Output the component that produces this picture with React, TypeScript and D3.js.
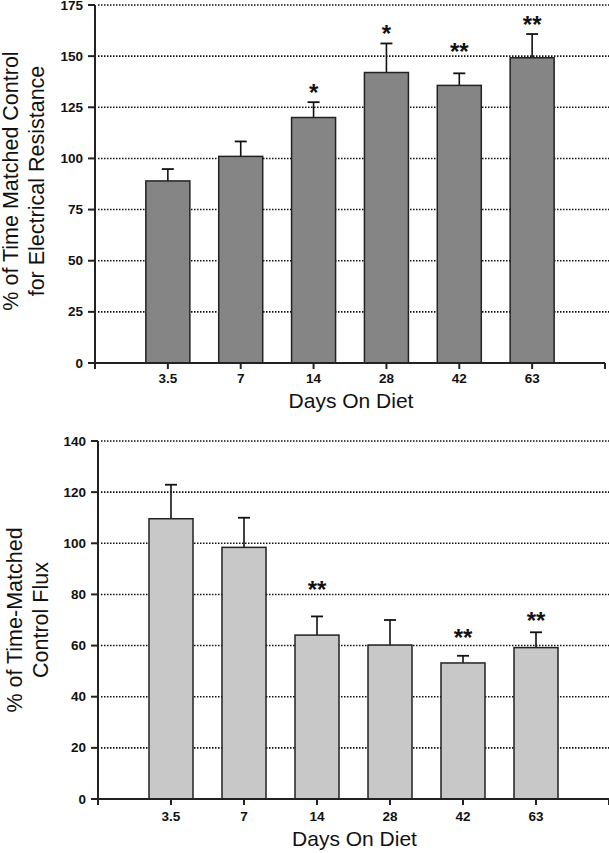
import React from "react";
import * as d3 from "d3";

const categories = ["3.5", "7", "14", "28", "42", "63"];

const resistanceValues = [89, 101, 120, 142, 135.7, 149.2];
const resistanceErrors = [5.8, 7.3, 7.5, 14.2, 5.9, 11.6];
const resistanceStars = ["", "", "*", "*", "**", "**"];
const resistanceStarY = [0, 0, 134.4, 163.2, 154.4, 167.6];
const resistanceTicks = [0, 25, 50, 75, 100, 125, 150, 175];

const fluxValues = [109.6, 98.4, 64.1, 60.2, 53.2, 59.2];
const fluxErrors = [13.3, 11.6, 7.3, 9.8, 2.8, 6.0];
const fluxStars = ["", "", "**", "", "**", "**"];
const fluxStarY = [0, 0, 83.8, 0, 65, 71.4];
const fluxTicks = [0, 20, 40, 60, 80, 100, 120, 140];

const FONT = "'Liberation Sans', Arial, Helvetica, sans-serif";

type PanelProps = {
  values: number[];
  errors: number[];
  stars: string[];
  starY: number[];
  ticks: number[];
  yMax: number;
  x0: number;
  x1: number;
  yTop: number;
  yBottom: number;
  fill: string;
  labelLines: string[];
  labelCenterY: number;
  labelBase: number;
  tickLabelDy: number;
  xTitleY: number;
};

function Panel(p: PanelProps) {
  const y = d3.scaleLinear().domain([0, p.yMax]).range([p.yBottom, p.yTop]);
  const x = d3.scaleLinear().domain([0, categories.length + 1]).range([p.x0, p.x1]);
  const barW = 44;
  const capW = 12;
  return (
    <g>
      {p.ticks.filter((t) => t > 0).map((t) => (
        <line
          key={"g" + t}
          x1={p.x0 + 3}
          x2={p.x1 + 4}
          y1={y(t)}
          y2={y(t)}
          stroke="#111"
          strokeWidth={1.6}
          strokeDasharray="1.5,1.5"
        />
      ))}
      {categories.map((c, i) => {
        const cx = x(i + 1);
        const v = p.values[i];
        const top = y(v);
        const capY = y(v + p.errors[i]);
        return (
          <g key={"b" + c}>
            <line x1={cx} x2={cx} y1={top} y2={capY} stroke="#111" strokeWidth={1.6} />
            <line x1={cx - capW / 2} x2={cx + capW / 2} y1={capY} y2={capY} stroke="#111" strokeWidth={1.8} />
            <rect
              x={cx - barW / 2}
              y={top}
              width={barW}
              height={p.yBottom - top}
              fill={p.fill}
              stroke="#222"
              strokeWidth={1.5}
            />
            {p.stars[i] && (
              <text
                x={cx}
                y={y(p.starY[i]) + 13}
                textAnchor="middle"
                fontFamily={FONT}
                fontWeight="bold"
                fontSize={24}
                fill="#111"
              >
                {p.stars[i]}
              </text>
            )}
          </g>
        );
      })}
      <line x1={p.x0} x2={p.x0} y1={p.yTop} y2={p.yBottom + 1} stroke="#222" strokeWidth={2} />
      {p.ticks.map((t) => (
        <g key={"t" + t}>
          <line x1={p.x0 - 7} x2={p.x0} y1={y(t)} y2={y(t)} stroke="#222" strokeWidth={2} />
          <text
            x={p.x0 - 12}
            y={y(t) + 4.5}
            textAnchor="end"
            fontFamily={FONT}
            fontWeight="bold"
            fontSize={13.5}
            fill="#111"
          >
            {t}
          </text>
        </g>
      ))}
      <line x1={p.x0 - 1} x2={p.x1} y1={p.yBottom} y2={p.yBottom} stroke="#222" strokeWidth={2} />
      {[0, ...categories.map((_, i) => i + 1), categories.length + 1].map((k) => (
        <line
          key={"xt" + k}
          x1={x(k)}
          x2={x(k)}
          y1={p.yBottom}
          y2={p.yBottom + 6}
          stroke="#222"
          strokeWidth={2}
        />
      ))}
      {categories.map((c, i) => (
        <text
          key={"xl" + c}
          x={x(i + 1)}
          y={p.yBottom + p.tickLabelDy}
          textAnchor="middle"
          fontFamily={FONT}
          fontWeight="bold"
          fontSize={13.5}
          fill="#111"
        >
          {c}
        </text>
      ))}
      <text
        x={(p.x0 + p.x1) / 2 + 1}
        y={p.xTitleY}
        textAnchor="middle"
        fontFamily={FONT}
        fontSize={21}
        fill="#111"
      >
        Days On Diet
      </text>
      <text
        transform={`translate(0, ${p.labelCenterY}) rotate(-90)`}
        textAnchor="middle"
        fontFamily={FONT}
        fontSize={21.5}
        fill="#111"
      >
        {p.labelLines.map((l, i) => (
          <tspan key={l} x={0} y={p.labelBase + i * 25.5}>
            {l}
          </tspan>
        ))}
      </text>
    </g>
  );
}

export default function App() {
  return (
    <svg
      width={609}
      height={853}
      style={{ position: "absolute", left: 0, top: 0, background: "#fff" }}
    >
      <rect width={609} height={853} fill="#fff" />
      <Panel
        values={resistanceValues}
        errors={resistanceErrors}
        stars={resistanceStars}
        starY={resistanceStarY}
        ticks={resistanceTicks}
        yMax={175}
        x0={95}
        x1={605}
        yTop={5}
        yBottom={363}
        fill="#858585"
        labelLines={["% of Time Matched Control", "for Electrical Resistance"]}
        labelCenterY={181}
        labelBase={18}
        tickLabelDy={20}
        xTitleY={408}
      />
      <Panel
        values={fluxValues}
        errors={fluxErrors}
        stars={fluxStars}
        starY={fluxStarY}
        ticks={fluxTicks}
        yMax={140}
        x0={98}
        x1={609}
        yTop={441}
        yBottom={799}
        fill="#c8c8c8"
        labelLines={["% of Time-Matched", "Control Flux"]}
        labelCenterY={620}
        labelBase={22}
        tickLabelDy={22}
        xTitleY={846}
      />
    </svg>
  );
}
